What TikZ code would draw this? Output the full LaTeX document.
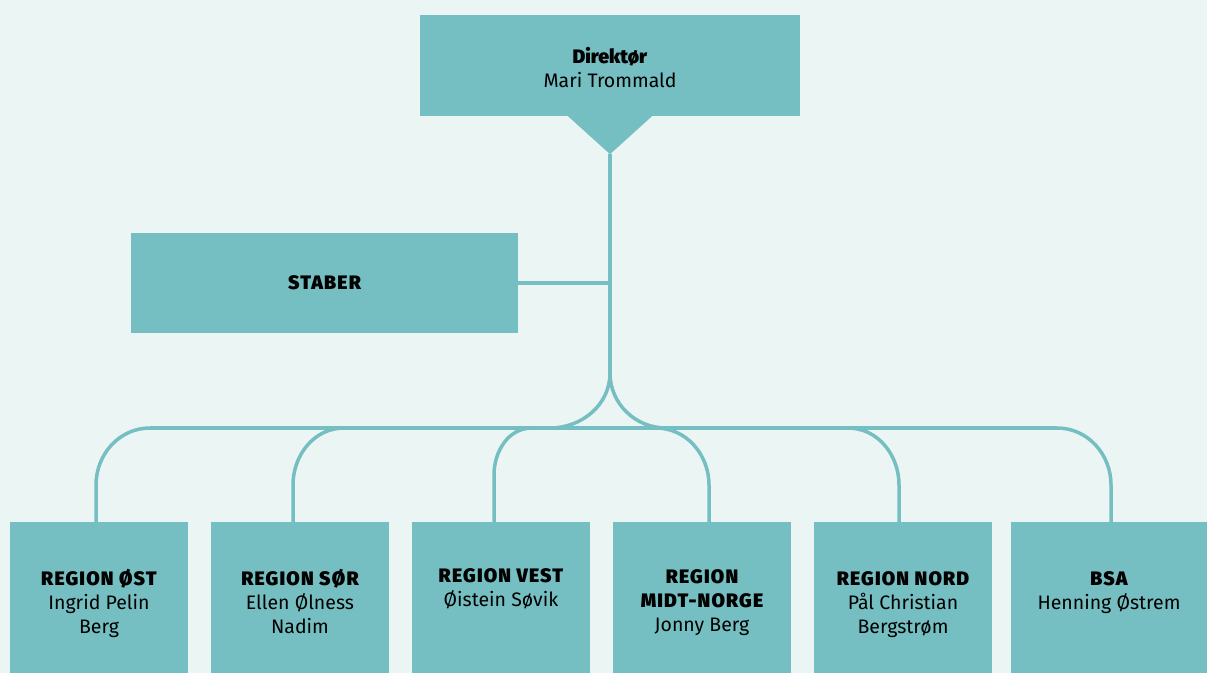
\documentclass[tikz,border=0pt]{standalone}
\usepackage{fontspec}
\setmainfont{Fira Sans}[BoldFont={Fira Sans Black}]
\usetikzlibrary{positioning}

\definecolor{bakgrunn}{RGB}{235,245,244}
\definecolor{boksfarge}{RGB}{117,190,193}

\newcommand{\overskrift}[1]{{\bfseries\addfontfeature{LetterSpace=6}#1}}

\tikzset{
    boks/.style={fill=boksfarge, inner sep=0pt, minimum width=178pt, minimum height=151pt},
    tekst/.style={align=center, inner sep=0pt, anchor=north, font=\fontsize{19.5}{24}\selectfont},
    linje/.style={draw=boksfarge, line width=3.5pt}
}

\begin{document}
\begin{tikzpicture}[x=1pt,y=1pt]
        \fill[bakgrunn] (0,0) rectangle (1207,673);
        \useasboundingbox (0,0) rectangle (1207,673);

        % toppen
        \node[boks, minimum width=380pt, minimum height=101pt, align=center,
              font=\fontsize{19.5}{24}\selectfont] (dir) at (610,607.5) {\rule{0pt}{21pt}\textbf{Direktør}\\Mari Trommald};
        \coordinate (tip) at ([yshift=-38pt]dir.south);
        \fill[boksfarge] ([xshift=-42pt]dir.south) -- ([xshift=42pt]dir.south) -- (tip) -- cycle;

        \node[boks, minimum width=387pt, minimum height=100pt,
              font=\fontsize{19.5}{24}\selectfont] (staber) at (324.5,390) {\overskrift{STABER}};

        % regionene
        \node[boks] (ost) at (99,75.5) {};
        \node[boks] (sor) at (300,75.5) {};
        \node[boks] (vest) at (501,75.5) {};
        \node[boks] (midt) at (702,75.5) {};
        \node[boks] (nord) at (903,75.5) {};
        \node[boks, minimum width=196pt] (bsa) at (1109,75.5) {};

        \node[tekst] (ost-t) at ([yshift=-47pt]ost.north) {\overskrift{REGION ØST}\\Ingrid Pelin\\Berg};
        \node[tekst] (sor-t) at ([yshift=-47pt]sor.north) {\overskrift{REGION SØR}\\Ellen Ølness\\Nadim};
        \node[tekst] (vest-t) at ([yshift=-47pt]vest.north) {\overskrift{REGION VEST}\\Øistein Søvik};
        \node[tekst] (midt-t) at ([yshift=-48pt]midt.north) {\overskrift{REGION}\\\overskrift{MIDT-NORGE}\\Jonny Berg};
        \node[tekst] (nord-t) at ([yshift=-50pt]nord.north) {\overskrift{REGION NORD}\\Pål Christian\\Bergstrøm};
        \node[tekst] (bsa-t) at ([yshift=-50pt]bsa.north) {\overskrift{BSA}\\Henning Østrem};

        % linjer
        \coordinate (split) at (610,300);
        \coordinate (hv) at (550,245);
        \coordinate (hh) at (666,245);
        \draw[linje] (tip) -- (split);
        \draw[linje] (staber.east) -- (staber.east -| split);
        \draw[linje] (split) to[out=-90,in=0] (hv);
        \draw[linje] (split) to[out=-90,in=180] (hh);
        \draw[linje] (150,245) -- (1057,245);

        \draw[linje] (150,245) to[out=180,in=90] (96,188) -- (ost.north -| 96,0);
        \draw[linje] (344,245) to[out=180,in=90] (293,188) -- (sor.north -| 293,0);
        \draw[linje] (532,245) to[out=180,in=90] (494,198) -- (vest.north -| 494,0);
        \draw[linje] (656,245) to[out=0,in=90] (709,188) -- (midt.north -| 709,0);
        \draw[linje] (848,245) to[out=0,in=90] (899,188) -- (nord.north -| 899,0);
        \draw[linje] (1057,245) to[out=0,in=90] (1111,188) -- (bsa.north -| 1111,0);
\end{tikzpicture}
\end{document}
